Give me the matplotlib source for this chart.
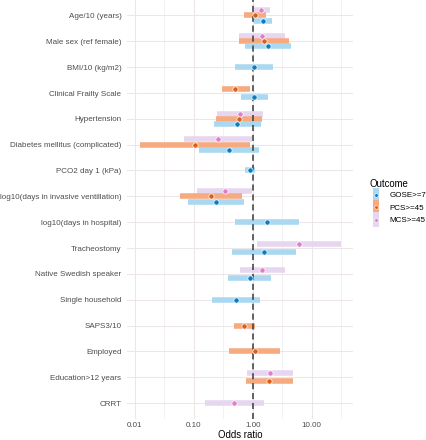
import numpy as np
import matplotlib
matplotlib.use("Agg")
import matplotlib.pyplot as plt
from matplotlib.legend_handler import HandlerBase
from matplotlib.patches import Rectangle
from matplotlib.lines import Line2D
from matplotlib.ticker import FixedLocator, NullFormatter

nan = np.nan
categories = ["Age/10 (years)", "Male sex (ref female)", "BMI/10 (kg/m2)",
              "Clinical Frailty Scale", "Hypertension", "Diabetes mellitus (complicated)",
              "PCO2 day 1 (kPa)", "log10(days in invasive ventillation)",
              "log10(days in hospital)", "Tracheostomy", "Native Swedish speaker",
              "Single household", "SAPS3/10", "Employed", "Education>12 years", "CRRT"]

outcomes = ["GOSE>=7", "PCS>=45", "MCS>=45"]

gose_or = [1.50, 1.80, 1.05, 1.05, 0.55, 0.39, 0.90, 0.24, 1.75, 1.54, 0.89, 0.52, nan, nan, nan, nan]
gose_lo = [1.04, 0.73, 0.51, 0.63, 0.223, 0.121, 0.74, 0.081, 0.51, 0.44, 0.385, 0.20, nan, nan, nan, nan]
gose_hi = [2.15, 4.47, 2.19, 1.80, 1.37, 1.29, 1.11, 0.71, 6.04, 5.37, 2.02, 1.35, nan, nan, nan, nan]

pcs_or = [1.09, 1.54, nan, 0.51, 0.58, 0.105, nan, 0.196, nan, nan, nan, nan, 0.72, 1.08, 1.91, nan]
pcs_lo = [0.71, 0.59, nan, 0.30, 0.238, 0.0124, nan, 0.059, nan, nan, nan, nan, 0.475, 0.40, 0.77, nan]
pcs_hi = [1.68, 4.08, nan, 0.90, 1.44, 0.90, nan, 0.66, nan, nan, nan, nan, 1.09, 2.90, 4.78, nan]

mcs_or = [1.38, 1.46, nan, nan, 0.62, 0.26, nan, 0.335, nan, 6.1, 1.46, nan, nan, nan, 1.97, 0.49]
mcs_lo = [0.98, 0.59, nan, nan, 0.25, 0.068, nan, 0.112, nan, 1.20, 0.61, nan, nan, nan, 0.80, 0.155]
mcs_hi = [2.00, 3.53, nan, nan, 1.51, 0.98, nan, 0.98, nan, 31.4, 3.49, nan, nan, nan, 4.78, 1.56]

x_ticks = [0.01, 0.1, 1, 10]
x_ticklabels = ["0.01", "0.10", "1.00", "10.00"]

bar_colors = {"GOSE>=7": "#A9D8F0", "PCS>=45": "#F6AA80", "MCS>=45": "#E6D6EF"}
pt_colors = {"GOSE>=7": "#0B7DC6", "PCS>=45": "#D9601A", "MCS>=45": "#E27CCB"}

data = {
    "GOSE>=7": (np.array(gose_or), np.array(gose_lo), np.array(gose_hi)),
    "PCS>=45": (np.array(pcs_or), np.array(pcs_lo), np.array(pcs_hi)),
    "MCS>=45": (np.array(mcs_or), np.array(mcs_lo), np.array(mcs_hi)),
}

# dodge positions (top to bottom: MCS, PCS, GOSE)
stack_order = ["MCS>=45", "PCS>=45", "GOSE>=7"]
w = 0.6
ypos = {o: np.full(len(categories), nan) for o in outcomes}
for i in range(len(categories)):
    present = [o for o in stack_order if not np.isnan(data[o][0][i])]
    n = len(present)
    for k, o in enumerate(present):
        ypos[o][i] = i - w / 2 + w / (2 * n) + k * w / n

fig = plt.figure(figsize=(4.26, 4.40), dpi=100)
ax = fig.add_axes([127 / 426, 1 - 418.5 / 440, (353 - 127) / 426, 418.5 / 440])

font = "Liberation Sans"
grid_c = "#ECE6E9"

ax.set_xscale("log")
ax.set_xlim(10 ** -2.134, 10 ** 1.703)
ax.set_ylim(len(categories) - 1 + 0.6, -0.6)

# grid
minor = [10 ** (-2.5), 10 ** (-1.5), 10 ** (-0.5), 10 ** 0.5, 10 ** 1.5]
for m in minor:
    ax.axvline(m, color=grid_c, lw=0.4, zorder=0)
for t in x_ticks:
    ax.axvline(t, color=grid_c, lw=0.75, zorder=0)
for i in range(len(categories)):
    ax.axhline(i, color=grid_c, lw=0.75, zorder=0)

for o in stack_order:
    orr, lo, hi = data[o]
    m = ~np.isnan(orr)
    ax.hlines(ypos[o][m], lo[m], hi[m], color=bar_colors[o], lw=4.0,
              capstyle="butt", zorder=2)

ax.axvline(1, color="#3A3A3A", lw=1.1, ls=(0, (4, 2.5)), zorder=3)

for o in stack_order:
    orr, lo, hi = data[o]
    m = ~np.isnan(orr)
    ax.plot(orr[m], ypos[o][m], "o", ms=3.8, mfc=pt_colors[o], mec="white",
            mew=0.5, zorder=4, ls="none")

ax.xaxis.set_major_locator(FixedLocator(x_ticks))
ax.xaxis.set_minor_locator(FixedLocator([]))
ax.xaxis.set_minor_formatter(NullFormatter())
ax.set_xticklabels(x_ticklabels)
ax.set_yticks(range(len(categories)))
ax.set_yticklabels(categories)
ax.tick_params(axis="both", length=0, labelsize=5.8, labelcolor="#4D4D4D")
ax.tick_params(axis="x", pad=2.6)
ax.tick_params(axis="y", pad=4.0)
for lab in ax.get_xticklabels() + ax.get_yticklabels():
    lab.set_fontfamily(font)
for s in ax.spines.values():
    s.set_visible(False)
ax.set_facecolor("white")

ax.set_xlabel("Odds ratio", fontsize=6.9, fontfamily=font, color="black", labelpad=0.6)


class KeyHandler(HandlerBase):
    def __init__(self, barc, ptc):
        super().__init__()
        self.barc = barc
        self.ptc = ptc

    def create_artists(self, legend, orig_handle, xdescent, ydescent, width, height, fontsize, trans):
        cx = width / 2 - xdescent
        bw = 4.2
        bh = 10.6
        cy = height / 2 - ydescent
        r = Rectangle((cx - bw / 2, cy - bh / 2), bw, bh, facecolor=self.barc,
                      edgecolor="none", transform=trans)
        p = Line2D([cx], [cy], marker="o", ms=2.6, mfc=self.ptc, mec="white",
                   mew=0.4, ls="none", transform=trans)
        return [r, p]


handles = [Line2D([], []) for _ in outcomes]
hmap = {h: KeyHandler(bar_colors[o], pt_colors[o]) for h, o in zip(handles, outcomes)}
leg = fig.legend(handles, outcomes, handler_map=hmap, loc="upper left",
                 bbox_to_anchor=(369 / 426, 1 - 178.5 / 440), frameon=False,
                 borderpad=0, borderaxespad=0, handlelength=1.75, handleheight=1.9,
                 handletextpad=0.75, labelspacing=0.05,
                 prop={"family": font, "size": 5.8}, title="Outcome",
                 title_fontproperties={"family": font, "size": 6.9}, alignment="left")

fig.savefig("out.png", dpi=100, facecolor="white")
